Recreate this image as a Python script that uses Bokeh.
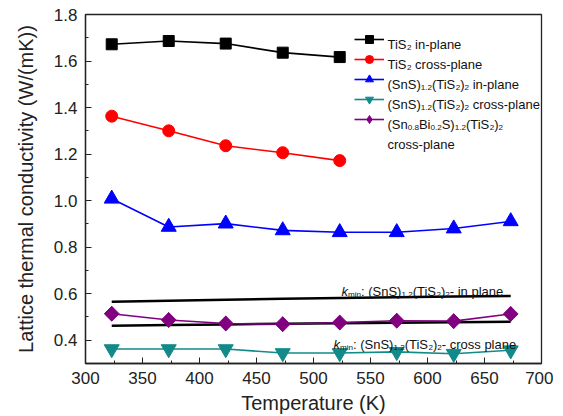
from bokeh.plotting import figure
from bokeh.models import Range1d, FixedTicker, Legend, LegendItem, Label, PrintfTickFormatter, ColumnDataSource
from bokeh.embed import file_html
from bokeh.resources import INLINE
import numpy as np

# ---------------- data ----------------
temps_tis2 = [323, 373, 423, 473, 523]
temps = [323, 373, 423, 473, 523, 573, 623, 673]
tis2_in = [1.672, 1.686, 1.675, 1.636, 1.617]
tis2_cross = [1.363, 1.300, 1.236, 1.206, 1.172]
sns_in = [1.008, 0.887, 0.901, 0.872, 0.864, 0.864, 0.880, 0.911]
sns_cross = [0.362, 0.362, 0.362, 0.345, 0.345, 0.350, 0.342, 0.357]
snbi_cross = [0.514, 0.487, 0.472, 0.469, 0.476, 0.484, 0.482, 0.513]
kmin_in = [0.565, 0.570, 0.574, 0.578, 0.582, 0.585, 0.588, 0.590]
kmin_cross = [0.462, 0.465, 0.468, 0.471, 0.473, 0.475, 0.477, 0.479]

x_ticks = [300, 350, 400, 450, 500, 550, 600, 650, 700]
x_minor = [325, 375, 425, 475, 525, 575, 625, 675]
y_ticks = [0.4, 0.6, 0.8, 1.0, 1.2, 1.4, 1.6, 1.8]
y_minor = [0.5, 0.7, 0.9, 1.1, 1.3, 1.5, 1.7]

# legend texts as (text, kind) segments; kind "sub" = subscript
legend_texts = [
    [("TiS", "n"), ("2", "sub"), (" in-plane", "n")],
    [("TiS", "n"), ("2", "sub"), (" cross-plane", "n")],
    [("(SnS)", "n"), ("1.2", "sub"), ("(TiS", "n"), ("2", "sub"), (")", "n"), ("2", "sub"), (" in-plane", "n")],
    [("(SnS)", "n"), ("1.2", "sub"), ("(TiS", "n"), ("2", "sub"), (")", "n"), ("2", "sub"), (" cross-plane", "n")],
    [("(Sn", "n"), ("0.8", "sub"), ("Bi", "n"), ("0.2", "sub"), ("S)", "n"), ("1.2", "sub"), ("(TiS", "n"),
     ("2", "sub"), (")", "n"), ("2", "sub")],
    [("cross-plane", "n")],
]

FONT = "Liberation Sans"
X0, X1, Y0, Y1 = 300, 700, 0.3, 1.8
FL, FT, FW, FH = 85, 14, 456, 349   # frame left, top, width, height (px)

p = figure(width=FL + FW + 12, height=416, x_range=Range1d(X0, X1), y_range=Range1d(Y0, Y1),
           output_backend="svg", toolbar_location=None,
           min_border_left=FL, min_border_right=12, min_border_top=FT, min_border_bottom=416 - FT - FH)
p.xgrid.visible = False
p.ygrid.visible = False
p.outline_line_color = "#222222"
p.outline_line_width = 1.3
p.background_fill_color = "white"

p.xaxis.ticker = FixedTicker(ticks=x_ticks, minor_ticks=x_minor)
p.yaxis.ticker = FixedTicker(ticks=y_ticks, minor_ticks=y_minor)
p.yaxis.formatter = PrintfTickFormatter(format="%.1f")
for ax in (p.xaxis, p.yaxis):
    ax.axis_line_color = "#222222"
    ax.axis_line_width = 1.3
    ax.major_tick_in = 6
    ax.major_tick_out = 0
    ax.minor_tick_in = 3
    ax.minor_tick_out = 0
    ax.major_tick_line_color = "#222222"
    ax.minor_tick_line_color = "#222222"
    ax.major_label_text_font = FONT
    ax.major_label_text_font_size = "17px"
    ax.major_label_text_color = "#222222"
    ax.axis_label_text_font = FONT
    ax.axis_label_text_font_size = "20px"
    ax.axis_label_text_font_style = "normal"
    ax.axis_label_text_color = "#222222"
p.xaxis.axis_label = "Temperature (K)"
p.yaxis.axis_label = "Lattice thermal conductivity (W/(mK))"
p.xaxis.major_label_standoff = 8
p.xaxis.axis_label_standoff = 5
p.yaxis.major_label_standoff = 8
p.yaxis.axis_label_standoff = 14

# kmin reference lines
p.line(temps, kmin_in, color="black", line_width=2.5)
p.line(temps, kmin_cross, color="black", line_width=2.5)

series = [
    (temps_tis2, tis2_in, "black", "square", 11, 0.0),
    (temps_tis2, tis2_cross, "red", "circle", 12, 0.0),
    (temps, sns_in, "blue", "triangle", 15, 0.0),
    (temps, sns_cross, "#138a8a", "inverted_triangle", 15, 0.0),
    (temps, snbi_cross, "#800080", "square", 10.5, 45.0),
]
items = []
for xs, ys, col, mk, sz, ang in series:
    src = ColumnDataSource(dict(x=xs, y=ys, a=[ang] * len(xs)))
    lr = p.line("x", "y", source=src, color=col, line_width=1.6)
    if ang:
        # diamond glyph underneath (used for the legend sample; legend ignores per-point angle)
        leg_r = p.scatter("x", "y", source=src, marker="diamond", size=14.5, color=col)
        p.scatter("x", "y", source=src, marker=mk, size=sz, angle="a", angle_units="deg", color=col)
    else:
        leg_r = p.scatter("x", "y", source=src, marker=mk, size=sz, color=col)
    items.append(LegendItem(label=" ", renderers=[lr, leg_r]))

ROW0, PITCH = 39, 20          # legend first row centre and row pitch (px)
LEG_X = 354                   # legend glyph left (px)
legend = Legend(items=items, location=(LEG_X - FL, FT + FH - (ROW0 - PITCH / 2 + PITCH * len(items))),
                margin=0, padding=0, spacing=0,
                glyph_width=30, glyph_height=PITCH, label_height=PITCH, label_width=1, label_standoff=0,
                border_line_alpha=0, background_fill_alpha=0,
                label_text_font=FONT, label_text_font_size="1px")
p.add_layout(legend)

# rich text with subscripts
W = {'k': 500, 'm': 833, 'i': 222, 'n': 556, ':': 278, ' ': 278, '(': 333, ')': 333,
     'S': 667, 'T': 611, 'B': 667, '0': 556, '1': 556, '2': 556, '8': 556, '.': 278, '-': 333,
     'p': 556, 'l': 222, 'a': 556, 'e': 556, 'c': 500, 'r': 333, 'o': 556, 's': 500}


def text_width(s, size):
    return sum(W.get(c, 556) for c in s) * size / 1000.0


def px_x(px):
    return X0 + (px - FL) * (X1 - X0) / FW


def px_y(py):
    return Y1 - (py - FT) * (Y1 - Y0) / FH


def rich_label(px, py, segs, size=13):
    off = 0.0
    for txt, kind in segs:
        fs = size * 0.62 if kind == "sub" else size
        stripped = txt.lstrip(" ")
        off += text_width(txt[:len(txt) - len(stripped)], fs)
        p.add_layout(Label(x=px_x(px), y=px_y(py), x_offset=off, y_offset=(-3 if kind == "sub" else 0),
                           text=stripped, text_font=FONT, text_font_size=f"{fs:.1f}px",
                           text_font_style=("italic" if kind == "it" else "normal"),
                           text_baseline="alphabetic", text_align="left", text_color="#111111"))
        off += text_width(stripped, fs)


for i, segs in enumerate(legend_texts):
    rich_label(387, ROW0 + PITCH * i + 4.5, segs)


def kmin_segs(tail):
    return [("k", "it"), ("min", "sub"), (": (SnS)", "n"), ("1.2", "sub"), ("(TiS", "n"),
            ("2", "sub"), (")", "n"), ("2", "sub"), (tail, "n")]


rich_label(341, 291, kmin_segs("- in plane"))
rich_label(333, 344, kmin_segs("- cross plane"))

open("out.html", "w").write(file_html(p, INLINE))
